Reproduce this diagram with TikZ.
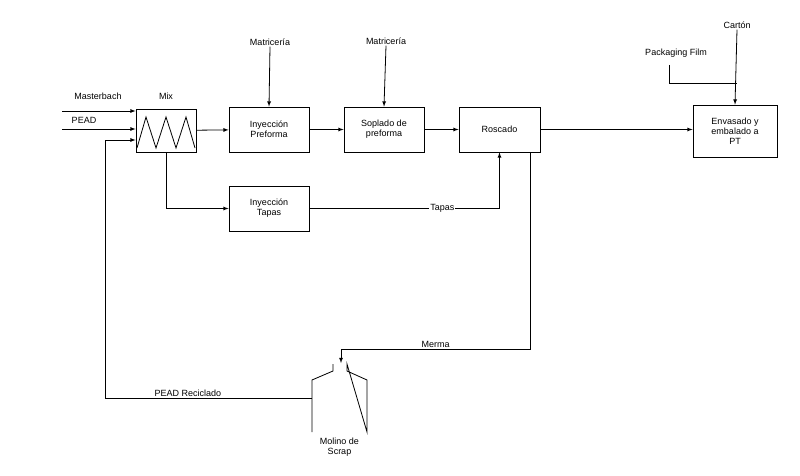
\documentclass[tikz,border=0pt]{standalone}
\usepackage{fontspec}
\setmainfont{Liberation Sans}
\usetikzlibrary{positioning}

\tikzset{
  proc/.style={draw,thick,align=center,font=\fontsize{9}{10}\selectfont,inner sep=0pt},
  lbl/.style={font=\fontsize{9}{10}\selectfont,inner sep=1pt},
  flow/.style={thick,->,>=latex},
}

\begin{document}
\begin{tikzpicture}[x=1pt,y=-1pt]
  \useasboundingbox (0,0) rectangle (800,476);

  \node[proc,minimum width=60,minimum height=43]  (Mix)      at (166,130.5) {};
  \node[proc,minimum width=80,minimum height=45]  (Preforma) at (269,129.5) {Inyecci\'on\\Preforma};
  \node[proc,minimum width=80,minimum height=45]  (Soplado)  at (384,129.5) {Soplado de\\preforma};
  \node[proc,minimum width=81,minimum height=45]  (Roscado)  at (499.5,129.5) {Roscado};
  \node[proc,minimum width=84,minimum height=52]  (Envasado) at (735,131) {Envasado y\\embalado a\\PT};
  \node[proc,minimum width=80,minimum height=45]  (Tapas)    at (269,208.5) {Inyecci\'on\\Tapas};

  % zigzag of the mixer
  \draw[thick] (137,148) -- (146,117) -- (156,148) -- (166,117) -- (176,148) -- (186,117) -- (195,148);

  % molino
  \draw[thick] (312,432) -- (312,380) -- (333,371) -- (333,364)
               (347,364) -- (347,371) -- (367,380) -- (367,432) -- cycle;
  \coordinate (Molino) at (341,363);
  \coordinate (MolinoL) at (312,398);
  \node[lbl,align=center] (MolinoTxt) at (339.5,447) {Molino de\\Scrap};

  \node[lbl] (Masterbach) at (98,96)  {Masterbach};
  \node[lbl] (PEAD)       at (84,120) {PEAD};
  \node[lbl] (MixTxt)     at (166,96) {Mix};
  \node[lbl] (Matr1)      at (270,42) {Matricer\'ia};
  \node[lbl] (Matr2)      at (386,41) {Matricer\'ia};
  \node[lbl] (Carton)     at (737,25) {Cart\'on};
  \node[lbl] (Packaging)  at (676,53) {Packaging Film};
  \coordinate (inA) at (62,111);
  \coordinate (inB) at (62,129);

  \draw[flow] (inA) -- (Mix.west |- inA);
  \draw[flow] (inB) -- (Mix.west |- inB);
  \draw[flow] (Mix) -- (Preforma);
  \draw[flow] (Preforma) -- (Soplado);
  \draw[flow] (Soplado) -- (Roscado);
  \draw[flow] (Roscado) -- (Envasado.west |- Roscado);
  \draw[flow] (Matr1.south) -- (Preforma.north);
  \draw[flow] (Matr2.south) -- (Soplado.north);
  \draw[flow] (Carton.south) -- (Envasado.north);
  \draw[thick] (669,65) -- (669,83) -- (Carton.south |- 0,83);
  \draw[flow] (Mix.south) |- (Tapas.west);
  \draw[flow] (Tapas.east) -| node[lbl,pos=0.35,fill=white] {Tapas} (Roscado.south);
  \draw[flow] (Roscado.south -| 530,0) |- node[lbl,pos=0.75,above] {Merma} (341,349) -- (Molino);
  \draw[flow] (MolinoL) -| node[lbl,pos=0.3,above] {PEAD Reciclado} (105,140) -- (Mix.west |- 0,140);
\end{tikzpicture}
\end{document}
